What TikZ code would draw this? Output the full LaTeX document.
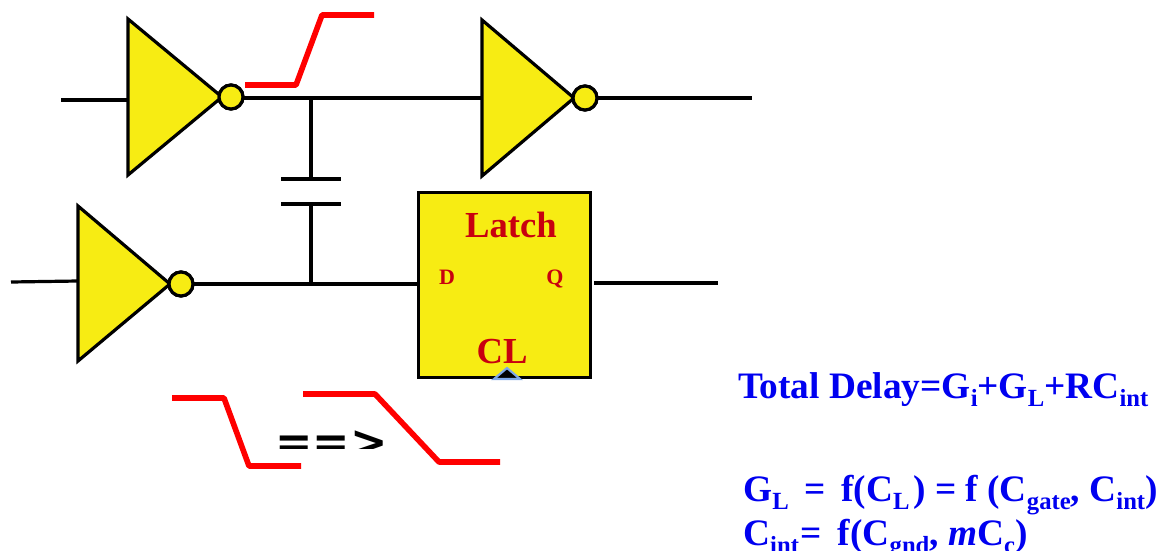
\documentclass[tikz,border=0pt]{standalone}
\usepackage{fontspec}
\setmainfont{Liberation Serif}
\newfontfamily\arrowfont{DejaVu Sans}
\definecolor{latchyellow}{HTML}{F7EC13}
\definecolor{latchred}{HTML}{C8000F}
\definecolor{eqblue}{HTML}{0000F0}
\definecolor{clockblue}{HTML}{7FA8E8}
\definecolor{sigred}{HTML}{FF0000}
\newcommand{\lsub}[1]{\raisebox{-0.22em}{\fontsize{18.5pt}{18.5pt}\selectfont #1}}
\tikzset{
  wire/.style={draw=black,line width=2.4pt},
  invbody/.style={draw=black,fill=latchyellow,line width=2.4pt,line join=miter},
  bubble/.style={circle,draw=black,fill=latchyellow,line width=2.4pt,minimum size=18pt,inner sep=0pt,outer sep=0pt},
  sig/.style={draw=sigred,line width=4.2pt,line join=round},
  latchbox/.style={rectangle,draw=black,fill=latchyellow,line width=2.4pt,minimum width=129pt,minimum height=139pt,inner sep=0pt,outer sep=0pt},
  latchtxt/.style={text=latchred,font=\bfseries,inner sep=0pt,anchor=base},
  eq/.style={text=eqblue,font=\fontsize{28pt}{28pt}\selectfont\bfseries,inner sep=0pt,anchor=base west},
}
\begin{document}
\begin{tikzpicture}[x=0.75pt,y=-0.75pt]
\useasboundingbox (0,0) rectangle (1162,550);
% inverters
\coordinate (i1a) at (128,19); \coordinate (i1b) at (128,175); \coordinate (i1c) at (222,97);
\coordinate (i2a) at (482,20); \coordinate (i2b) at (482,176); \coordinate (i2c) at (574,98);
\coordinate (i3a) at (78,206); \coordinate (i3b) at (78,361); \coordinate (i3c) at (170,284);
% wire ends
\coordinate (in1) at (61,100); \coordinate (in1e) at (128,100);
\coordinate (in3) at (11,282); \coordinate (in3e) at (78,281);
\coordinate (in2e) at (482,98);
\coordinate (out2) at (752,98);
\coordinate (tapt) at (311,98); \coordinate (tapb) at (311,284);
\coordinate (p1) at (311,179); \coordinate (p2) at (311,204);
\coordinate (p1l) at (281,179); \coordinate (p1r) at (341,179);
\coordinate (p2l) at (281,204); \coordinate (p2r) at (341,204);
\coordinate (qs) at (594,283); \coordinate (qe) at (718,283);
\node[bubble] (b1) at (231,97) {};
\node[bubble] (b2) at (585,98) {};
\node[bubble] (b3) at (181,284) {};
\node[latchbox] (latch) at (504.5,285) {};
\draw[wire] (in1) -- (in1e);
\draw[wire] (in3) -- (in3e);
\draw[wire] (b1.east |- in2e) -- (in2e);
\draw[wire] (b2.east) -- (out2);
\draw[wire] (b3.east) -- (latch.west |- b3.east);
\draw[wire] (tapt) -- (p1);
\draw[wire] (p2) -- (tapb);
\draw[wire] (p1l) -- (p1r);
\draw[wire] (p2l) -- (p2r);
\draw[wire] (qs) -- (qe);
\draw[invbody] (i1a) -- (i1b) -- (i1c) -- cycle;
\draw[invbody] (i2a) -- (i2b) -- (i2c) -- cycle;
\draw[invbody] (i3a) -- (i3b) -- (i3c) -- cycle;
\node[bubble] at (b1) {};
\node[bubble] at (b2) {};
\node[bubble] at (b3) {};
% clock triangle
\coordinate (ck1) at (494,379); \coordinate (ck2) at (507,368); \coordinate (ck3) at (520,379);
\draw[draw=clockblue,fill=black,line width=1.6pt] (ck1) -- (ck2) -- (ck3) -- cycle;
% latch labels
\node[latchtxt,font=\fontsize{27.5pt}{27.5pt}\selectfont\bfseries] (lt) at (511,237) {Latch};
\node[latchtxt,font=\fontsize{27.5pt}{27.5pt}\selectfont\bfseries] (lc) at (502,363) {CL};
\node[latchtxt,font=\fontsize{16.5pt}{16.5pt}\selectfont\bfseries] (ld) at (447,284) {D};
\node[latchtxt,font=\fontsize{16.5pt}{16.5pt}\selectfont\bfseries] (lq) at (555,284) {Q};
% red signals
\coordinate (r1) at (245,85); \coordinate (r2) at (296,85); \coordinate (r3) at (322,15); \coordinate (r4) at (374,15);
\draw[sig] (r1) -- (r2) -- (r3) -- (r4);
\coordinate (s1) at (172,398); \coordinate (s2) at (224,398); \coordinate (s3) at (249,466); \coordinate (s4) at (301,466);
\draw[sig] (s1) -- (s2) -- (s3) -- (s4);
\coordinate (t1) at (303,394); \coordinate (t2) at (375,394); \coordinate (t3) at (439,462); \coordinate (t4) at (500,462);
\begin{scope}
\clip (270,410) rectangle (392,448);
\node[anchor=base west,inner sep=0pt,font=\arrowfont\fontsize{33.5pt}{33.5pt}\selectfont\bfseries] (arr) at (275,457) {==>};
\end{scope}
\draw[sig] (t1) -- (t2) -- (t3) -- (t4);
% equations
\node[eq] (e1) at (738,398) {Total Delay=G\lsub{i}+G\lsub{L}+RC\lsub{int}};
\node[eq] (e2) at (743,501) {G\lsub{L}\hspace{0.42em}=\hspace{0.42em}f(C\lsub{L}\hspace{0.1em}) = f (C\lsub{gate}, C\lsub{int})};
\node[eq] (e3) at (743,545) {C\lsub{int}\hspace{0.05em}=\hspace{0.42em}f(C\lsub{gnd}, \textit{m}C\lsub{c})};
\end{tikzpicture}
\end{document}
